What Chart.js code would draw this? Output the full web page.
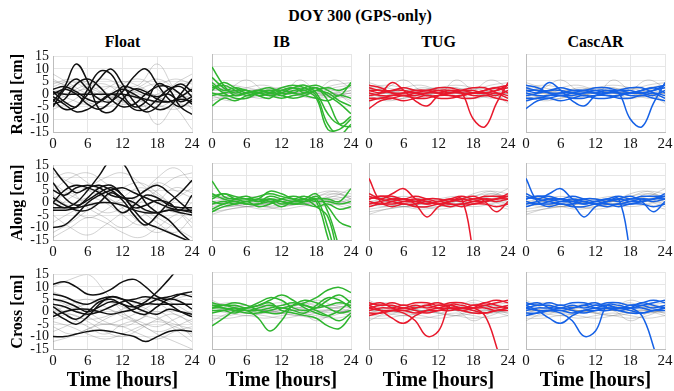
<!DOCTYPE html>
<html>
<head>
<meta charset="utf-8">
<script src="https://cdn.jsdelivr.net/npm/chart.js@4.4.1/dist/chart.umd.min.js"></script>
<style>
  html, body { margin: 0; padding: 0; background: #fff; }
  #wrap { position: relative; width: 674px; height: 391px; overflow: hidden;
          font-family: "Liberation Serif", "Times New Roman", serif; }
  .lbl { position: absolute; font-weight: bold; font-size: 16px; line-height: 1;
         transform: translateX(-50%); white-space: nowrap; color: #000; }
  canvas { position: absolute; }
</style>
</head>
<body>
<div id="wrap">
  <div class="lbl" style="left:360px;top:8px">DOY 300 (GPS-only)</div>
</div>
<script>
// sample hours: coloured curves read every 2 h, grey background curves every 3 h
const HOURS_FINE = [0, 2, 4, 6, 8, 10, 12, 14, 16, 18, 20, 22, 24];
const HOURS_COARSE = [0, 3, 6, 9, 12, 15, 18, 21, 24];
const X_TICKS = [0, 6, 12, 18, 24];
const Y_TICKS = [-15, -10, -5, 0, 5, 10, 15];
const METHODS = ['Float', 'IB', 'TUG', 'CascAR'];
const COMPONENTS = ['Radial [cm]', 'Along [cm]', 'Cross [cm]'];
const METHOD_COLORS = ['#111111', '#2fb52f', '#e8192c', '#1561e6'];

// ---- Radial ----
const floatRadialGray = [
  [5, 3, -2, -3, 2, 4, 12, 2, -4],
  [2, 0, 3, 4, 0, -2, -12, -4, 3],
  [8, 4, 0, -2, -4, -3, 0, 3, 5],
  [-4, -6, -2, 2, 5, 3, -1, -3, 0],
  [0, 3, 5, 1, -3, -5, -2, 4, 8],
  [6, 2, -3, -5, -2, 2, 4, 1, -2],
  [-2, 1, 4, 6, 3, 0, -4, -6, -3],
  [3, 5, 2, -1, -1, 3, 6, 2, -6],
  [-6, -3, 1, 3, 2, -2, -5, -2, 2],
  [1, -2, -4, -1, 4, 6, 2, -3, -5],
  [4, 6, 4, 0, -3, -1, 3, 6, 4],
  [-3, 0, 2, 0, -2, 1, -1, -5, -14]
];
const floatRadialLines = [
  [-3, 3, 12, 5, -6, -7, -2, 2, 1, -2, -3, -1, 2],
  [1, -3, -5, 2, 9, 8, 0, -5, -3, 4, 2, -5, -8],
  [-2, -6, -5, 0, 6, 10, 4, -3, -7, -5, 1, 4, 1],
  [0, 2, 0, -4, -6, -3, 1, 7, 10, 4, -2, -5, -2],
  [1, 0, 0, 0, 0, 0, 0, -1, -2, -3, -3, -2, -3],
  [-4, -2, 4, 6, 3, -2, -5, -4, 0, 3, 3, 0, -4],
  [2, 3, 1, -2, -3, 0, 2, 0, -3, -6, -5, 0, 6],
  [-1, -4, -7, -6, -3, 0, -2, -6, -6, -2, 2, 3, -1],
  [-5, 2, 6, 2, -2, -3, 3, 2, 0, -1, 0, -3, -1]
];
const fixedRadialGray = [
  [3, 1, 0, -1, 0, 1, 0, 2, 3],
  [1, 2, 5, 1, 0, 2, -1, 0, 1],
  [-1, 0, 1, 0, -1, 5, 1, -1, 0],
  [2, 0, -1, 1, 2, 0, 1, 5, 2],
  [0, -2, -2, 0, 1, -1, -2, 0, -4],
  [-2, -1, 0, 2, 1, 0, 0, -1, 1],
  [4, 2, 1, 0, -1, 1, 2, 1, -2],
  [-3, -1, 1, 1, 0, -1, 1, 3, 4],
  [1, 1, -1, -2, 1, 2, 0, -2, -1],
  [-1, -3, -2, -1, 0, 1, -1, 1, 2],
  [2, 3, 2, 1, 2, 3, 2, 0, -3],
  [0, 0, 2, 3, 1, 0, -2, -1, 0]
];
const ibRadialLines = [
  [10, 3, -1, 0, 1, 0, 1, 2, 1, -2, -14, -14, -10],
  [6, 2, 0, 1, -1, 0, 2, 3, 2, -1, -12, -16, -12],
  [4, 1, 2, 1, 0, -1, 0, 2, 3, 0, -8, -12, -9],
  [2, 3, 1, -1, 0, 1, -1, 1, 1, 2, -3, -12, -13],
  [0, -1, -1, 0, 1, 2, 0, 0, 2, 3, 1, -1, 4],
  [-1, 0, 1, 1, -1, -2, 1, 2, 0, 1, 0, -3, -5],
  [-5, -2, -3, -1, 0, -1, -2, -1, 0, 2, -1, -4, -8],
  [1, 4, 2, 0, 1, 0, -1, -2, -1, 1, 2, 1, 3],
  [3, 0, -2, -2, 0, 1, 1, 0, -1, -2, -3, -1, -2]
];
const tugRadialLines = [
  [-1, 0, 4, 1, -3, -5, -1, 0, 1, 0, 0, 1, 2],
  [1, 1, 0, 0, 1, 1, 0, 1, 0, -10, -13, -4, 4],
  [-6, -3, -2, -1, -1, 0, 0, -1, -1, 0, 1, 2, 3],
  [2, 1, 1, 2, 1, 1, 2, 2, 1, 1, 0, 1, 3],
  [0, -1, -1, 0, 0, -1, -1, 0, 0, -1, -1, 0, -1],
  [-2, -2, -1, -1, -2, -2, -1, -1, -2, -2, -1, -2, -3],
  [1, 0, 1, 1, 0, 0, 1, 1, 0, 0, 1, 2, 0],
  [-3, -2, -2, -3, -2, -1, -2, -2, -1, 0, 0, -1, 1],
  [3, 2, 0, -1, 0, 1, 1, 0, 1, 2, 2, 0, -2]
];
const cascarRadialLines = tugRadialLines;

// ---- Along ----
const floatAlongGray = [
  [12, 8, 5, 2, 0, 3, 8, 5, 2],
  [-12, -8, -3, 2, 6, 8, 4, -2, -8],
  [5, 10, 12, 8, 3, -2, -6, -10, -14],
  [-5, -10, -13, -9, -4, 0, 5, 10, 12],
  [0, 4, -2, -6, -10, -6, 0, 6, 4],
  [8, 3, 0, -4, -2, 3, 10, 14, 8],
  [-8, -4, 0, 4, 2, -3, -8, -12, -6],
  [3, -2, -6, -3, 2, 6, 3, -2, -10],
  [-3, 2, 6, 10, 12, 8, 2, -4, 0],
  [10, 12, 8, 3, -2, -8, -12, -8, -2],
  [-14, -10, -6, -8, -12, -14, -10, -5, -3],
  [1, -1, 2, 0, -5, -9, -6, 1, 6]
];
const floatAlongLines = [
  [14, 8, 4, 6, 7, 5, 2, 0, -3, -4, -3, -4, -5],
  [0, -2, 0, 5, 11, 17, 16, 8, 0, -4, -7, -12, -16],
  [-10, -9, -5, 0, 3, 5, 6, 4, 2, 0, -2, -3, -3],
  [5, 3, 6, 7, 6, 3, 2, 2, 5, 7, 4, 0, -4],
  [-3, -3, -2, 2, 6, 7, 3, -3, -8, -10, -12, -14, -16],
  [2, -1, -3, -3, 0, 4, 1, -5, -9, -5, 0, 4, 9],
  [0, 5, 7, 6, 4, 0, -4, -1, 3, 2, -1, -2, -2],
  [-2, -2, -2, -1, 0, 0, -1, -3, -4, -4, -3, -3, -4],
  [8, 2, -1, 1, 4, 6, 3, -2, -1, 1, 0, -3, 3]
];
const fixedAlongGray = [
  [2, 1, 0, -1, 0, 1, 2, 4, 3],
  [-1, 0, 1, 0, -1, 0, 3, 4, 1],
  [0, -1, -2, -1, 0, 1, 1, 2, 5],
  [-3, -2, -1, -2, -1, 0, 2, 3, 2],
  [1, 2, 1, 0, -1, -1, 0, 1, -1],
  [-4, -3, -2, -1, 0, 0, 1, 0, -2],
  [3, 1, 0, 1, 1, 0, -1, 1, 2],
  [-2, -1, -2, -3, -2, -1, 0, 2, 0],
  [0, 1, 2, 1, 0, -1, -2, -1, 1],
  [-1, -2, -1, 0, 1, 2, 1, -1, -3],
  [2, 0, -1, -2, -2, -1, 0, 3, 1],
  [-5, -3, -2, -2, -3, -2, -1, 0, -1]
];
const ibAlongLines = [
  [8, 2, 1, 1, 0, 2, 1, 0, 0, 1, -10, -25, -30],
  [2, 3, 2, 1, 2, 3, 2, 1, 2, 0, -14, -28, -30],
  [0, -1, 1, 2, 0, 1, -1, 0, 1, -2, -6, -22, -30],
  [-3, -1, 0, -1, -1, 0, 0, -1, 0, 2, -2, -8, -10],
  [1, 3, 1, 0, 1, 4, 3, 1, 0, 1, 1, 0, 5],
  [-1, 0, -1, 0, -2, -1, 1, 2, 1, 0, 0, -1, 0],
  [3, 1, 0, -1, -1, 1, 0, -1, -1, -2, -1, -3, -2],
  [-4, -2, -1, 0, 1, 0, -2, 0, 1, 3, -4, -18, -30]
];
const tugAlongLines = [
  [9, 0, -1, 0, 1, 0, -1, 0, 1, -20, -45, -50, -50],
  [2, 1, 3, 5, 1, -1, 0, 1, 0, 1, 1, 0, 1],
  [0, -1, 0, 1, -1, -6, -2, 0, 1, 0, 0, 1, 2],
  [1, 2, 1, 0, 0, 1, 1, 0, 1, 2, 0, -4, 0],
  [-1, 0, 1, 1, 0, -1, 0, -1, -1, 0, 1, 1, 3],
  [3, 1, 0, -1, -1, 0, -1, -2, -1, -1, 0, 1, 1],
  [-2, -1, -2, -1, -2, -2, -1, -1, -2, -1, -1, -2, -1],
  [1, 2, 2, 1, 2, 1, 0, 1, 2, 1, 2, 2, 2]
];
const cascarAlongLines = tugAlongLines;

// ---- Cross ----
const floatCrossGray = [
  [3, -2, -6, -9, -5, -3, 0, -4, -10],
  [-6, -9, -7, -3, 0, 2, -2, -7, -12],
  [8, 5, 0, -4, -6, -3, 2, 5, 7],
  [-3, -1, -4, -8, -10, -7, -3, -1, -5],
  [0, 3, 5, 2, -2, -5, -9, -12, -15],
  [-8, -5, -1, 1, -1, -4, -6, -3, 0],
  [5, 2, -2, -5, -3, 0, 3, -1, -4],
  [-12, -10, -7, -5, -6, -9, -11, -8, -6],
  [2, -1, -3, -2, 1, 4, 6, 3, -1],
  [-4, -6, -9, -11, -9, -6, -4, -6, -9],
  [10, 13, 15, 8, 0, -5, -8, -6, -3],
  [-1, 1, 3, 4, 2, -1, -3, -5, -7]
];
const floatCrossLines = [
  [11, 12, 10, 7, 7, 9, 12, 13, 10, 6, 5, 7, 8],
  [-10, -10, -9, -8, -7.5, -8, -9, -10, -12, -10, -8, -7.5, -8],
  [2, -1, -3, 0, 4, 5, 3, 2, 4, 8, 13, 18, 20],
  [7, 6, 4, 3, 5, 6, 5, 4, 3, 5, 6, 7, 6],
  [5, 4, 2, 0, 2, 4, 3, 0, -1, 2, 5, 4, 1],
  [0, -3, -5, -2, 3, 6, 5, 2, 0, -1, 1, 0, -1],
  [-2, 0, 1, 1, 0, -1, 0, 1, 3, 3, 3, 3, 3],
  [3, 2, 0, -1, 0, 2, 4, 5, 6, 5, 3, 0, -2]
];
const fixedCrossGray = [
  [4, 1, 0, -1, 0, 1, 4, 2, 1],
  [-4, -1, 0, 0, -1, 0, -4, -1, 0],
  [2, 0, -1, 1, 2, 1, 3, 0, -2],
  [-2, -2, 0, 0, -1, -2, -3, -2, 1],
  [1, 2, 1, 0, 1, 2, 1, 2, 3],
  [0, -1, -2, -1, 0, 0, -1, 0, -1],
  [3, 2, 1, 2, 1, 0, 2, 1, 2],
  [-3, -3, -2, -3, -2, -1, -2, -3, -2],
  [1, 0, 1, 2, 3, 1, 0, -1, 0],
  [-1, 1, 2, 1, -1, -2, -1, 1, 2],
  [0, 0, -1, -2, -3, -2, 0, 0, -1],
  [2, 3, 2, 0, 1, 3, 2, 1, 0]
];
const ibCrossLines = [
  [1, 1, 0, 0, -3, -8, -4, 2, 2, 1, 2, 3, 2],
  [2, 2, 1, 0, 1, 2, 1, 2, 3, 5, 8, 9, 7],
  [-6, -3, 0, 1, 2, 3, 0, -1, -2, -3, -6, -7, -2],
  [3, 2, 2, 1, 2, 4, 6, 4, 1, -1, -2, 0, 4],
  [0, 0, -1, 1, 3, 5, 4, 1, 0, 1, 4, 6, 3],
  [-1, 0, 1, 0, 0, 1, 2, 3, 2, 0, -2, -4, -1],
  [2, 1, 0, -1, -1, 0, 1, 0, -1, 2, 5, 4, 1],
  [1, 2, 3, 2, 0, -1, -1, 2, 4, 3, 1, -1, 0]
];
const tugCrossLines = [
  [2, 0, -3, -5, -2, 0, 1, 2, 1, 1, 2, 3, 4],
  [1, 0, 0, -1, -4, -10, -8, 2, 2, 1, 1, 0, 1],
  [0, 1, 1, 2, 1, 2, 1, 1, 1, 1, -2, -14, -30],
  [3, 2, 3, 2, 3, 3, 2, 3, 3, 2, 3, 4, 3],
  [-1, -1, 0, 0, -1, 0, 0, 1, 0, -1, -1, 0, 1],
  [1, 2, 2, 1, 2, 1, 2, 2, 1, 2, 2, 1, 2],
  [-2, -1, 0, 1, 0, -1, 0, 0, 1, 0, -1, 0, 0],
  [2, 3, 1, 0, 1, 2, 3, 1, 0, 1, 3, 2, 1]
];
const cascarCrossLines = tugCrossLines;

const GRAY_SETS = [
  [floatRadialGray, fixedRadialGray],
  [floatAlongGray, fixedAlongGray],
  [floatCrossGray, fixedCrossGray]
];
const LINE_SETS = [
  [floatRadialLines, ibRadialLines, tugRadialLines, cascarRadialLines],
  [floatAlongLines, ibAlongLines, tugAlongLines, cascarAlongLines],
  [floatCrossLines, ibCrossLines, tugCrossLines, cascarCrossLines]
];

// layout (px) of each plot box on the page
const PLOT_LEFT = [53, 212, 369, 526];
const PLOT_TOP = [54, 163, 272];
const PLOT_H = [78, 77, 77];
const PLOT_W = 139;

const SERIF = '"Liberation Serif", "Times New Roman", serif';
const GRID = '#e6e6e6';
const BORDER = '#bdbdbd';
const GRAY_LINE = 'rgba(125,125,125,0.5)';

const wrap = document.getElementById('wrap');

METHODS.forEach((m, c) => {
    const d = document.createElement('div');
    d.className = 'lbl';
    d.textContent = m;
    d.style.left = (PLOT_LEFT[c] + PLOT_W / 2) + 'px';
    d.style.top = '34px';
    wrap.appendChild(d);
});

const toPoints = (hours, vals) => vals.map((v, i) => ({ x: hours[i], y: v }));

const makePanel = (r, c) => {
    const padL = c === 0 ? 53 : 14;
    const padR = 12, padT = 10;
    const padB = r === 2 ? 44 : 24;
    const w = padL + PLOT_W + padR;
    const h = padT + PLOT_H[r] + padB;

    const cv = document.createElement('canvas');
    cv.width = w; cv.height = h;
    cv.style.width = w + 'px'; cv.style.height = h + 'px';
    cv.style.left = (PLOT_LEFT[c] - padL) + 'px';
    cv.style.top = (PLOT_TOP[r] - padT) + 'px';
    wrap.appendChild(cv);

    const gray = GRAY_SETS[r][c === 0 ? 0 : 1];
    const lines = LINE_SETS[r][c];
    const datasets = [
        ...lines.map(v => ({
            data: toPoints(HOURS_FINE, v),
            borderColor: METHOD_COLORS[c],
            borderWidth: 1.5,
            order: 1
        })),
        ...gray.map(v => ({
            data: toPoints(HOURS_COARSE, v),
            borderColor: GRAY_LINE,
            borderWidth: 0.7,
            order: 2
        }))
    ];

    new Chart(cv, {
        type: 'line',
        data: { datasets },
        options: {
            responsive: false,
            animation: false,
            events: [],
            layout: { padding: { left: 0, right: padR, top: padT, bottom: 0 } },
            elements: { point: { radius: 0 }, line: { tension: 0.4 } },
            plugins: { legend: { display: false }, tooltip: { enabled: false } },
            scales: {
                x: {
                    type: 'linear', min: 0, max: 24,
                    afterBuildTicks: s => { s.ticks = X_TICKS.map(v => ({ value: v })); },
                    afterFit: s => { s.height = padB; },
                    grid: { color: GRID, drawTicks: false },
                    border: { color: BORDER },
                    ticks: { font: { family: SERIF, size: 15 }, color: '#111', padding: 3,
                             maxRotation: 0, autoSkip: false },
                    title: {
                        display: r === 2, text: 'Time [hours]', color: '#000',
                        font: { family: SERIF, size: 20, weight: 'bold' },
                        padding: { top: 0, bottom: 0 }
                    }
                },
                y: {
                    min: -15, max: 15,
                    afterBuildTicks: s => { s.ticks = Y_TICKS.map(v => ({ value: v })); },
                    afterFit: s => { s.width = padL; },
                    grid: { color: GRID, drawTicks: false },
                    border: { color: BORDER },
                    ticks: { display: c === 0, font: { family: SERIF, size: 14 }, color: '#111',
                             padding: 4, autoSkip: false },
                    title: {
                        display: c === 0, text: COMPONENTS[r], color: '#000',
                        font: { family: SERIF, size: 16, weight: 'bold' },
                        padding: { top: 8, bottom: 0 }
                    }
                }
            }
        }
    });
};

for (let r = 0; r < 3; r++) {
    for (let c = 0; c < 4; c++) makePanel(r, c);
}
</script>
</body>
</html>
